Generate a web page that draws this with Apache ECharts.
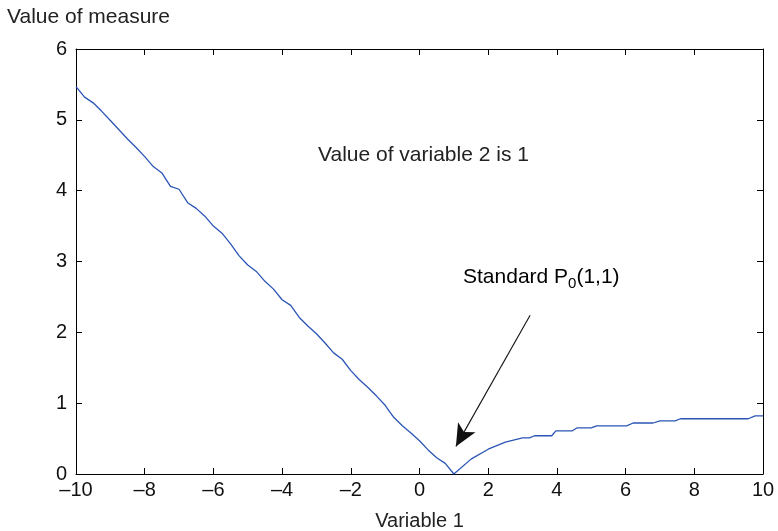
<!DOCTYPE html>
<html><head><meta charset="utf-8">
<script src="https://cdn.jsdelivr.net/npm/echarts@6/dist/echarts.min.js"></script>
<style>html,body{margin:0;padding:0;background:#fff}#c{width:778px;height:531px}</style>
</head><body><div id="c"></div>
<script>
// Data
const xValues = [-10,-9.75,-9.5,-9.25,-9.0,-8.75,-8.5,-8.25,-8.0,-7.75,-7.5,-7.25,-7.0,-6.75,-6.5,-6.25,-6.0,-5.75,-5.5,-5.25,-5.0,-4.75,-4.5,-4.25,-4.0,-3.75,-3.5,-3.25,-3.0,-2.75,-2.5,-2.25,-2.0,-1.75,-1.5,-1.25,-1.0,-0.75,-0.5,-0.25,0,0.25,0.5,0.75,1.0,
  1.5,2.0,2.5,3.0,3.2,3.35,3.85,3.97,4.45,4.58,5.0,5.16,6.03,6.22,6.8,7.0,7.44,7.6,9.57,9.77,10];
const yValues = [5.47,5.32,5.24,5.12,4.99,4.86,4.73,4.61,4.48,4.34,4.25,4.06,4.02,3.83,3.75,3.64,3.50,3.40,3.25,3.08,2.95,2.86,2.72,2.61,2.46,2.38,2.21,2.09,1.98,1.85,1.71,1.62,1.46,1.33,1.22,1.10,0.97,0.80,0.68,0.58,0.47,0.34,0.23,0.15,0.0,
  0.21,0.35,0.45,0.51,0.51,0.54,0.54,0.61,0.61,0.65,0.65,0.68,0.68,0.72,0.72,0.75,0.75,0.78,0.78,0.82,0.82];
const xTicks = {min:-10, max:10, interval:2};
const yTicks = {min:0, max:6, interval:1};
const arrowStart = [3.22, 2.24];
const arrowEnd = [1.06, 0.39];

const font = 'Liberation Sans, Arial, Helvetica, sans-serif';
const data = xValues.map((x,i)=>[x,yValues[i]]);
const chart = echarts.init(document.getElementById('c'));
const minus = v => String(v).replace('-', '\u2013');
const axLine = {show:true, onZero:false, lineStyle:{color:'#000', width:1}};
const tick = {inside:true, length:6, lineStyle:{color:'#000'}};
chart.setOption({
  animation:false,
  grid:{left:76, right:15, top:49, bottom:57, containLabel:false, outerBoundsMode:'none'},
  xAxis:[
    {type:'value', min:xTicks.min, max:xTicks.max, interval:xTicks.interval, position:'bottom',
     axisLine:axLine, axisTick:tick,
     axisLabel:{color:'#111', fontSize:20, fontFamily:font, margin:6, formatter:minus},
     splitLine:{show:false},
     name:'Variable 1', nameLocation:'middle', nameGap:37,
     nameTextStyle:{color:'#222', fontSize:20, fontFamily:font}},
    {type:'value', min:xTicks.min, max:xTicks.max, interval:xTicks.interval, position:'top',
     axisLine:axLine, axisTick:tick,
     axisLabel:{show:false}, splitLine:{show:false}}
  ],
  yAxis:[
    {type:'value', min:yTicks.min, max:yTicks.max, interval:yTicks.interval, position:'left',
     axisLine:axLine, axisTick:tick,
     axisLabel:{color:'#111', fontSize:20, fontFamily:font, margin:9},
     splitLine:{show:false}},
    {type:'value', min:yTicks.min, max:yTicks.max, interval:yTicks.interval, position:'right',
     axisLine:axLine, axisTick:tick,
     axisLabel:{show:false}, splitLine:{show:false}}
  ],
  graphic:[
    {type:'text', left:7, top:7, style:{text:'Value of measure', fill:'#222', font:'21px '+font}},
    {type:'text', left:318, top:145, style:{text:'Value of variable 2 is 1', fill:'#222', font:'21px '+font}},
    {type:'text', left:463, top:267, style:{
      text:'{a|Standard P}{s|0}{a|(1,1)}',
      rich:{a:{fontSize:21, fontFamily:font, color:'#222'},
            s:{fontSize:15, fontFamily:font, color:'#222', padding:[12,0,0,0]}}}}
  ],
  series:[{
    type:'line', data:data, showSymbol:false, symbol:'none',
    lineStyle:{color:'#2b55b5', width:1.3},
    markLine:{silent:true, symbol:['none','arrow'], symbolSize:[15,22],
      label:{show:false},
      lineStyle:{color:'#111', width:1.1, type:'solid'},
      data:[[{coord:arrowStart},{coord:arrowEnd}]]}
  }]
});
</script></body></html>
